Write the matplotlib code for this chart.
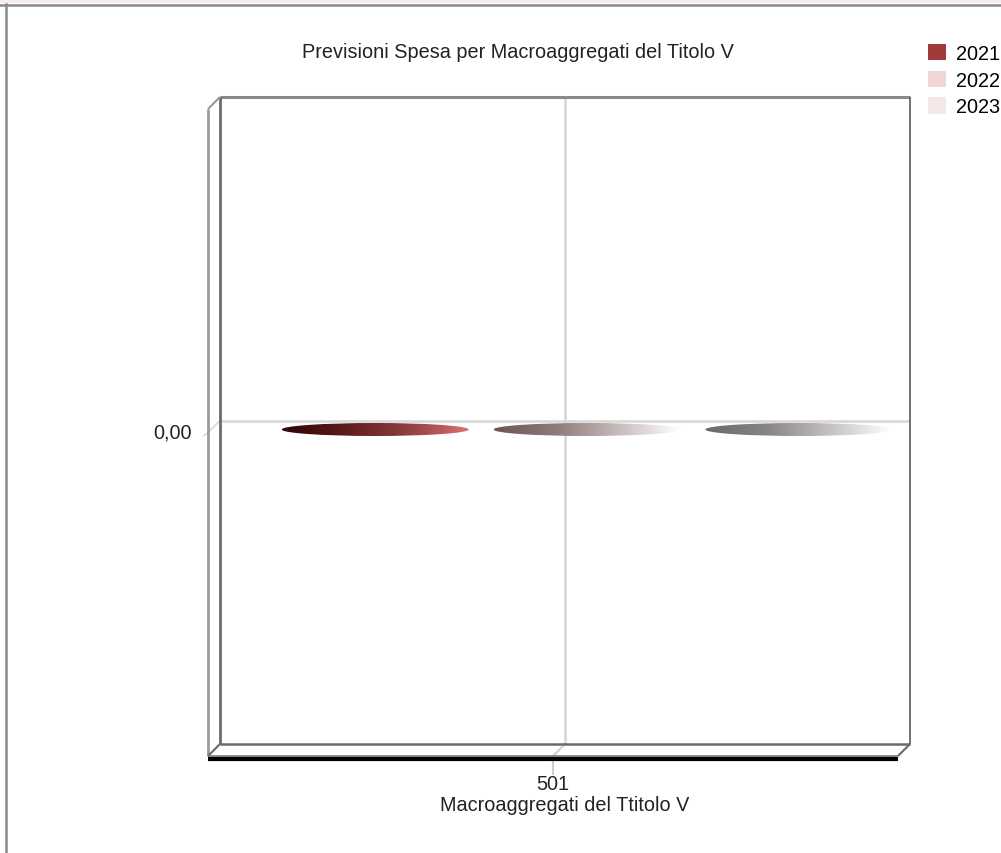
import numpy as np
import matplotlib.pyplot as plt
from matplotlib.patches import Ellipse, Patch, Rectangle
from matplotlib.lines import Line2D
from matplotlib.transforms import ScaledTranslation, IdentityTransform
from matplotlib.colors import LinearSegmentedColormap

plt.rcParams['font.family'] = ['Liberation Sans', 'DejaVu Sans']

# data
categories = ['501']
years = ['2021', '2022', '2023']
values = [0.0, 0.0, 0.0]
legend_colors = ['#a33a3a', '#f0d6d6', '#f5e8e8']
bar_gradients = [
    ['#2e0404', '#5c1b1b', '#8e3d3d', '#d97272'],
    ['#6b5454', '#8f7b7b', '#c8bcbc', '#ffffff'],
    ['#6c6868', '#8a8585', '#c5c1c1', '#ffffff'],
]
title = 'Previsioni Spesa per Macroaggregati del Titolo V'
xlabel = 'Macroaggregati del Ttitolo V'
ytick_label = '0,00'

FS = 14.3
W, H, DPI = 1001, 854, 100
fig = plt.figure(figsize=(W / DPI, H / DPI), dpi=DPI, facecolor='white')

# back wall of the 3D plot area
x0, x1, y0, y1 = 220, 910, 98, 745
ax = fig.add_axes([x0 / W, 1 - y1 / H, (x1 - x0) / W, (y1 - y0) / H])
ax.set_xlim(-0.5, 0.5)
ax.set_ylim(-1, 1)
ax.axis('off')
DEPTH = 12  # px, 3D depth offset (left/down)

def px(pts):
    # axes fraction -> display pixels
    return ax.transAxes.transform(np.asarray(pts, dtype=float))

def seg(pts, depth_flags, color, lw, z=3):
    p = px(pts)
    for i, d in enumerate(depth_flags):
        if d:
            p[i] = p[i] + np.array([-DEPTH, -DEPTH])
    fig.add_artist(Line2D(p[:, 0], p[:, 1], transform=IdentityTransform(),
                          color=color, lw=lw, zorder=z, solid_capstyle='butt'))

# gridlines on the back wall
xi = np.arange(len(categories))
ax.axhline(0, color='#d9d9d9', lw=2, zorder=1)
for x in xi:
    ax.axvline(x, color='#d9d9d9', lw=2, zorder=1)

# frame
seg([(0, 1), (1, 1)], [0, 0], '#8a8a8a', 2.2)
seg([(1, 1), (1, 0)], [0, 0], '#5a5a5a', 1.2)
seg([(0, 1), (0, 0)], [0, 0], '#6a6a6a', 2.0)
seg([(0, 1), (0, 0)], [1, 1], '#9a9a9a', 2.0)
seg([(0, 1), (0, 1)], [0, 1], '#9a9a9a', 1.5)
seg([(0, 0), (1, 0)], [0, 0], '#6a6a6a', 1.8)
seg([(1, 0), (1, 0)], [0, 1], '#6a6a6a', 1.5)
seg([(0, 0), (0, 0)], [0, 1], '#6a6a6a', 1.5)
seg([(0, 0), (1, 0)], [1, 1], '#7a7a7a', 1.2)
p = px([(0, 0), (1, 0)]) + np.array([-DEPTH, -DEPTH - 2.5])
fig.add_artist(Line2D(p[:, 0], p[:, 1], transform=IdentityTransform(),
                      color='black', lw=3, zorder=3, solid_capstyle='butt'))

# gridline continuation on left wall and floor
yz = ax.transData.transform((0, 0))[1]
fig.add_artist(Line2D([x0, x0 - DEPTH, x0 - DEPTH - 4],
                      [yz, yz - DEPTH, yz - DEPTH - 3],
                      transform=IdentityTransform(), color='#d9d9d9', lw=1.2))
fig.text(x0 - DEPTH - 16, yz - DEPTH, ytick_label, transform=IdentityTransform(),
         ha='right', va='center', fontsize=FS, color='#222222')
for x, lab in zip(xi, categories):
    xd, yb = ax.transData.transform((x, -1))
    fig.add_artist(Line2D([xd, xd - DEPTH, xd - DEPTH],
                          [yb, yb - DEPTH, yb - DEPTH - 18],
                          transform=IdentityTransform(), color='#cfcfcf', lw=1.5, zorder=2))
    fig.text(xd - DEPTH, yb - DEPTH - 28, lab, transform=IdentityTransform(),
             ha='center', va='center', fontsize=FS, color='#222222')
fig.text(0.5 * (x0 + x1) / W, 1 - 806 / H, xlabel,
         ha='center', va='center', fontsize=FS, color='#222222')

# bars (zero height, drawn as flat gradient ellipses)
n = len(years)
step = 0.307
bw = 0.271
bar_trans = ax.transData + ScaledTranslation(22 / DPI, -9 / DPI, fig.dpi_scale_trans)
ell_h = 13 / (y1 - y0) * 2
for i, (yr, v) in enumerate(zip(years, values)):
    cx = xi[0] + (i - (n - 1) / 2) * step
    e = Ellipse((cx, v), bw, ell_h, transform=bar_trans, facecolor='none', edgecolor='none')
    ax.add_patch(e)
    cmap = LinearSegmentedColormap.from_list(yr, bar_gradients[i])
    grad = np.linspace(0, 1, 256).reshape(1, -1)
    im = ax.imshow(grad, cmap=cmap, aspect='auto', interpolation='bilinear',
                   extent=(cx - bw / 2, cx + bw / 2, v - ell_h / 2, v + ell_h / 2),
                   transform=bar_trans, zorder=4)
    im.set_clip_path(e)
ax.set_xlim(-0.5, 0.5)
ax.set_ylim(-1, 1)

# title
fig.text(518 / W, 1 - 52 / H, title, ha='center', va='center', fontsize=FS, color='#222222')

# legend
handles = [Patch(facecolor=c, edgecolor='none') for c in legend_colors]
fig.legend(handles, years, loc='upper left', bbox_to_anchor=(928 / W, 1 - 45 / H),
           frameon=False, fontsize=FS, handlelength=0.9, handleheight=0.9,
           handletextpad=0.5, labelspacing=0.38, borderpad=0, borderaxespad=0)

# window border
fig.add_artist(Rectangle((0, 1 - 4 / H), 1, 4 / H, transform=fig.transFigure,
                         facecolor='#f7ecec', edgecolor='none'))
fig.add_artist(Line2D([0, 1], [1 - 5.5 / H, 1 - 5.5 / H], transform=fig.transFigure,
                      color='#8a8a8a', lw=1.8))
fig.add_artist(Line2D([5.5 / W, 5.5 / W], [0, 1 - 5 / H], transform=fig.transFigure,
                      color='#8a8a8a', lw=1.8))

fig.savefig('out.png', dpi=DPI, facecolor='white')
